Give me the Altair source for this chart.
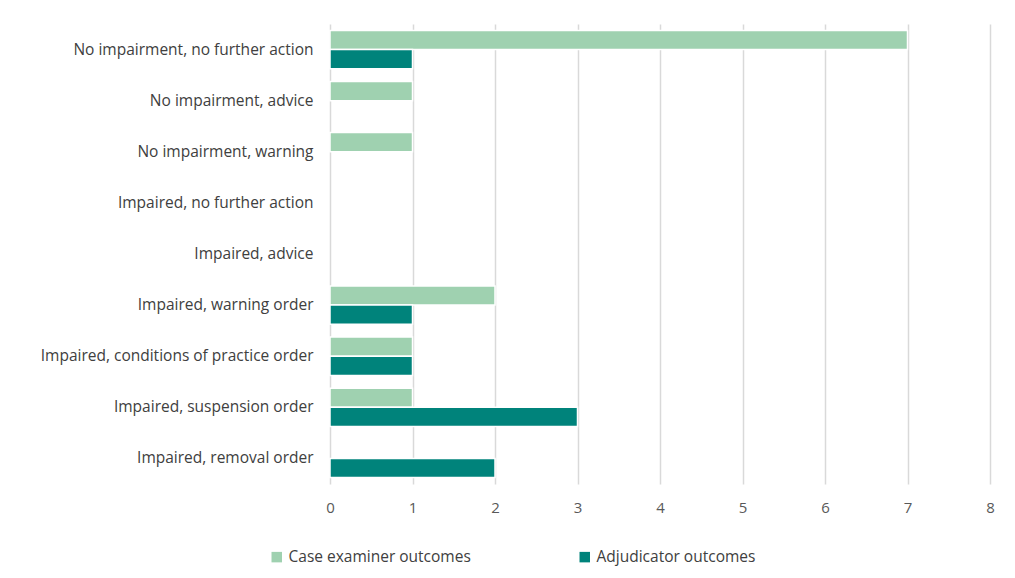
import altair as alt
import pandas as pd

categories = [
    "No impairment, no further action",
    "No impairment, advice",
    "No impairment, warning",
    "Impaired, no further action",
    "Impaired, advice",
    "Impaired, warning order",
    "Impaired, conditions of practice order",
    "Impaired, suspension order",
    "Impaired, removal order",
]
series_names = ["Case examiner outcomes", "Adjudicator outcomes"]
case_examiner = [7, 1, 1, 0, 0, 2, 1, 1, 0]
adjudicator = [1, 0, 0, 0, 0, 1, 1, 3, 2]
x_ticks = [0, 1, 2, 3, 4, 5, 6, 7, 8]
colors = ["#9fd1b0", "#00837b"]

rows = []
for c, a, b in zip(categories, case_examiner, adjudicator):
    rows.append({"category": c, "series": series_names[0], "value": a})
    rows.append({"category": c, "series": series_names[1], "value": b})
df = pd.DataFrame(rows)

FONT = "Open Sans"
FS = 15.5

chart = (
    alt.Chart(df)
    .transform_filter("datum.value > 0")
    .mark_bar(stroke="white", strokeWidth=1.5)
    .encode(
        y=alt.Y(
            "category:N",
            sort=categories,
            scale=alt.Scale(domain=categories, paddingInner=0.25, paddingOuter=0.125),
            axis=alt.Axis(
                title=None, domain=False, ticks=False, grid=False,
                labelPadding=17, labelFontSize=FS, labelColor="#404040",
                labelFont=FONT, labelLimit=400,
            ),
        ),
        yOffset=alt.YOffset("series:N", sort=series_names,
                            scale=alt.Scale(domain=series_names)),
        x=alt.X(
            "value:Q",
            scale=alt.Scale(domain=[0, 8], nice=False),
            axis=alt.Axis(
                title=None, domain=False, ticks=False,
                values=x_ticks, labelOverlap=False, labelFlush=False,
                grid=True, gridColor="#d9d9d9", gridWidth=1.5,
                labelPadding=16, labelFontSize=FS - 0.5, labelColor="#595959",
                labelFont=FONT,
            ),
        ),
        color=alt.Color(
            "series:N",
            sort=series_names,
            scale=alt.Scale(domain=series_names, range=colors),
            legend=alt.Legend(
                title=None, orient="none", direction="horizontal",
                legendX=-61, legendY=525,
                symbolType="square", symbolSize=110, symbolStrokeWidth=0,
                labelFontSize=FS, labelColor="#404040", labelFont=FONT,
                labelOffset=4, columnPadding=106, labelLimit=400,
            ),
        ),
    )
    .properties(
        width=660, height=460,
        autosize=alt.AutoSizeParams(type="none"),
        padding={"left": 322, "top": 16, "right": 17, "bottom": 86},
    )
    .configure_view(stroke=None)
)

chart.save("out.html", embed_options={"renderer": "svg", "actions": False})
